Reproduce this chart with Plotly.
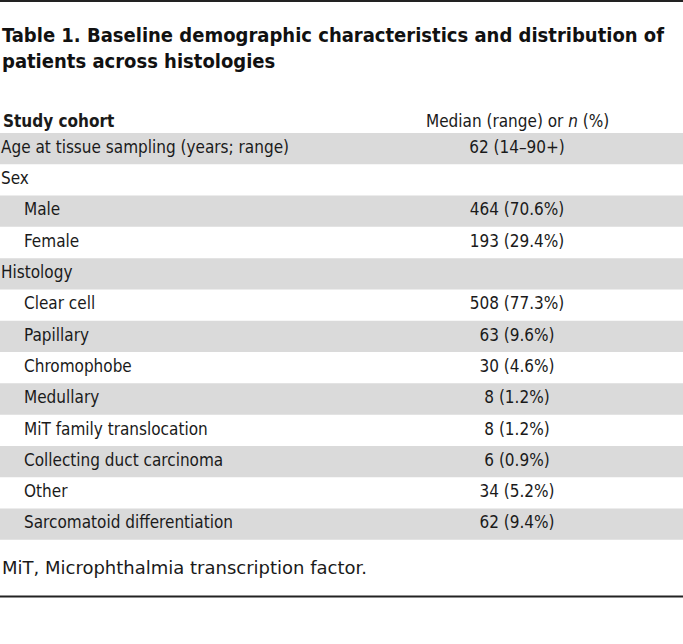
import plotly.graph_objects as go

# ---- data ----
title_text = "Table 1. Baseline demographic characteristics and distribution of<br>patients across histologies"
header_left = "Study cohort"
header_right = "Median (range) or <i>n</i> (%)"
row_labels = [
    "Age at tissue sampling (years; range)",
    "Sex",
    "Male",
    "Female",
    "Histology",
    "Clear cell",
    "Papillary",
    "Chromophobe",
    "Medullary",
    "MiT family translocation",
    "Collecting duct carcinoma",
    "Other",
    "Sarcomatoid differentiation",
]
row_values = [
    "62 (14–90+)",
    "",
    "464 (70.6%)",
    "193 (29.4%)",
    "",
    "508 (77.3%)",
    "63 (9.6%)",
    "30 (4.6%)",
    "8 (1.2%)",
    "8 (1.2%)",
    "6 (0.9%)",
    "34 (5.2%)",
    "62 (9.4%)",
]
row_indent = [False, False, True, True, False, True, True, True, True, True, True, True, True]
footnote = "MiT, Microphthalmia transcription factor."

# ---- layout constants ----
W, H = 683, 644
ROW_H = 31.3
HEADER_PX = 117.3
COND = "DejaVu Sans Condensed, Roboto, sans-serif"
TXT = "#1a1a1a"
BAND = "#dadada"
X_LEFT, X_INDENT, X_VAL = 1, 24, 517
FS = 17

row_idx = list(range(1, len(row_labels) + 1))
y_top = -HEADER_PX / ROW_H
y_bot = (H - HEADER_PX) / ROW_H

fig = go.Figure()

shapes = []
for k in row_idx:
    if k % 2 == 1:
        shapes.append(dict(type="rect", xref="paper", yref="y", x0=0, x1=1,
                           y0=k - 0.5, y1=k + 0.5, fillcolor=BAND,
                           line=dict(width=0), layer="below"))
shapes.append(dict(type="line", xref="paper", yref="paper", x0=0, x1=1,
                   y0=1 - 1 / H, y1=1 - 1 / H, line=dict(color="#222", width=2)))
shapes.append(dict(type="line", xref="paper", yref="paper", x0=0, x1=1,
                   y0=1 - 596.5 / H, y1=1 - 596.5 / H, line=dict(color="#222", width=2)))

lab_x = [X_INDENT if ind else X_LEFT for ind in row_indent]
fig.add_trace(go.Scatter(
    x=lab_x, y=row_idx, text=row_labels, mode="text",
    textposition="middle right",
    textfont=dict(family=COND, size=FS, color=TXT),
    hoverinfo="skip", showlegend=False))
fig.add_trace(go.Scatter(
    x=[X_VAL] * len(row_values), y=row_idx, text=row_values, mode="text",
    textposition="middle center",
    textfont=dict(family=COND, size=FS, color=TXT),
    hoverinfo="skip", showlegend=False))

annotations = [
    dict(text=f"<b>{header_left}</b>", x=X_LEFT, y=0, xref="x", yref="y",
         xanchor="left", yanchor="middle", showarrow=False, yshift=-4,
         font=dict(family=COND, size=FS, color=TXT)),
    dict(text=header_right, x=X_VAL, y=0, xref="x", yref="y",
         xanchor="center", yanchor="middle", showarrow=False, yshift=-4,
         font=dict(family=COND, size=FS, color=TXT)),
    dict(text=f"<b>{title_text}</b>", x=0, y=1 - 47.5 / H, xref="paper", yref="paper",
         xanchor="left", yanchor="middle", align="left", showarrow=False,
         font=dict(family=COND, size=20, color="#111")),
    dict(text=footnote, x=0, y=1 - 567 / H, xref="paper", yref="paper",
         xanchor="left", yanchor="middle", align="left", showarrow=False,
         font=dict(family="DejaVu Sans, sans-serif", size=18, color=TXT)),
]

fig.update_layout(
    width=W, height=H,
    margin=dict(l=0, r=0, t=0, b=0),
    paper_bgcolor="white", plot_bgcolor="white",
    xaxis=dict(range=[0, W], visible=False, fixedrange=True),
    yaxis=dict(range=[y_bot, y_top], visible=False, fixedrange=True),
    shapes=shapes, annotations=annotations,
)

fig.write_html("out.html", config={"displayModeBar": False},
               post_script="document.body.style.margin='0';document.body.style.overflow='hidden';")
